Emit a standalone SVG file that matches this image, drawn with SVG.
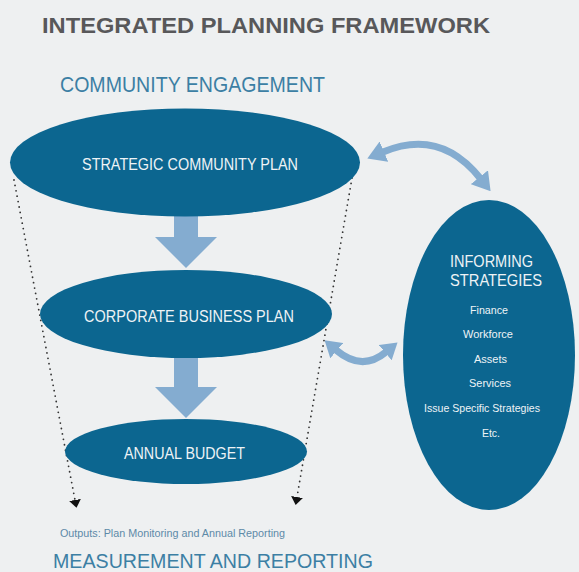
<svg xmlns="http://www.w3.org/2000/svg" width="579" height="572" viewBox="0 0 579 572">
<defs>
<style>
.node{fill:#0c6690}
.nt{fill:#eef3f6;font-family:"Liberation Sans",Arial,sans-serif;font-size:17px}
.st{fill:#eef3f6;font-family:"Liberation Sans",Arial,sans-serif;font-size:11.5px}
.blk{fill:#84acd0}
.dbl{fill:none;stroke:#84acd0;stroke-width:7}
.dot{fill:none;stroke:#333;stroke-width:1.8;stroke-linecap:round;stroke-dasharray:0 5.5}
.hdr{font-family:"Liberation Sans",Arial,sans-serif}
</style>
<marker id="bh" markerUnits="userSpaceOnUse" viewBox="0 0 18 22" markerWidth="18" markerHeight="22" refX="1" refY="11" orient="auto-start-reverse">
<path d="M0,0 L18,11 L0,22 z" fill="#84acd0"/>
</marker>
<marker id="sh" markerUnits="userSpaceOnUse" viewBox="0 0 16 20" markerWidth="16" markerHeight="20" refX="1" refY="10" orient="auto-start-reverse">
<path d="M0,0 L16,10 L0,20 z" fill="#84acd0"/>
</marker>
<marker id="dh" markerUnits="userSpaceOnUse" viewBox="0 0 8 12" markerWidth="8" markerHeight="12" refX="0" refY="6" orient="auto">
<path d="M0,0 L8,6 L0,12 z" fill="#111"/>
</marker>
</defs>
<rect width="579" height="572" fill="#eef0f1"/>
<text class="hdr" x="42" y="33" font-size="22" font-weight="bold" fill="#58585a" textLength="448" lengthAdjust="spacingAndGlyphs">INTEGRATED PLANNING FRAMEWORK</text>
<text class="hdr" x="60" y="92" font-size="22" fill="#3c7fa4" textLength="265" lengthAdjust="spacingAndGlyphs">COMMUNITY ENGAGEMENT</text>
<g id="connectors">
<rect class="blk" x="174" y="205" width="24" height="33"/>
<polygon class="blk" points="155,237 217,237 186,268"/>
<rect class="blk" x="174" y="350" width="24" height="38"/>
<polygon class="blk" points="155,387 217,387 186,418"/>
<path class="dbl" d="M383,152 Q440,128 480,178" marker-start="url(#bh)" marker-end="url(#bh)"/>
<path class="dbl" d="M336,350 Q362,372 386,352" marker-start="url(#sh)" marker-end="url(#sh)"/>
<path class="dot" d="M14,180 L75,500" marker-end="url(#dh)"/>
<path class="dot" d="M352,178 L297,497" marker-end="url(#dh)"/>
</g>
<g id="strategic">
<ellipse class="node" cx="185" cy="162.5" rx="175" ry="54"/>
<text class="nt" x="82" y="170" textLength="216" lengthAdjust="spacingAndGlyphs">STRATEGIC COMMUNITY PLAN</text>
</g>
<g id="corporate">
<ellipse class="node" cx="186" cy="314" rx="146" ry="44"/>
<text class="nt" x="84" y="322" textLength="210" lengthAdjust="spacingAndGlyphs">CORPORATE BUSINESS PLAN</text>
</g>
<g id="budget">
<ellipse class="node" cx="186" cy="451.5" rx="121" ry="32.5"/>
<text class="nt" x="124" y="459" textLength="121" lengthAdjust="spacingAndGlyphs">ANNUAL BUDGET</text>
</g>
<g id="informing">
<ellipse class="node" cx="489" cy="355" rx="86" ry="155"/>
<text class="nt" x="450" y="267" textLength="83" lengthAdjust="spacingAndGlyphs">INFORMING</text>
<text class="nt" x="450" y="286" textLength="92" lengthAdjust="spacingAndGlyphs">STRATEGIES</text>
<text class="st" x="470" y="314" textLength="38" lengthAdjust="spacingAndGlyphs">Finance</text>
<text class="st" x="463" y="338" textLength="50" lengthAdjust="spacingAndGlyphs">Workforce</text>
<text class="st" x="474" y="363" textLength="33" lengthAdjust="spacingAndGlyphs">Assets</text>
<text class="st" x="469" y="387" textLength="42" lengthAdjust="spacingAndGlyphs">Services</text>
<text class="st" x="424" y="412" textLength="116" lengthAdjust="spacingAndGlyphs">Issue Specific Strategies</text>
<text class="st" x="482" y="437" textLength="18" lengthAdjust="spacingAndGlyphs">Etc.</text>
</g>
<text class="hdr" x="60" y="537" font-size="10.5" fill="#5d8aa8" textLength="225" lengthAdjust="spacingAndGlyphs">Outputs: Plan Monitoring and Annual Reporting</text>
<text class="hdr" x="53" y="568" font-size="21" fill="#3c7fa4" textLength="320" lengthAdjust="spacingAndGlyphs">MEASUREMENT AND REPORTING</text>
</svg>
